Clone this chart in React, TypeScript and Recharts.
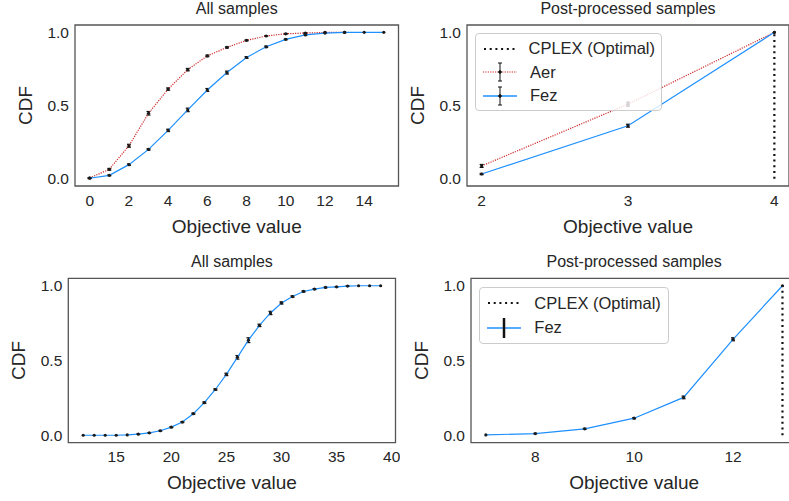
import React from "react";
import {
  LineChart,
  Line,
  XAxis,
  YAxis,
  ErrorBar,
  ReferenceArea,
  ReferenceLine,
} from "recharts";

const FONT = '"Liberation Sans", Arial, Helvetica, sans-serif';
const TEXT = "#262626";
const RED = "#cc2a2a";
const BLUE = "#1e90ff";
const SPINE = "#555555";

// panel 1: all samples, small problem
const allX = [0, 1, 2, 3, 4, 5, 6, 7, 8, 9, 10, 11, 12, 13, 14, 15];
const allAer = [0.005, 0.064, 0.225, 0.447, 0.612, 0.745, 0.839, 0.897, 0.945, 0.975, 0.99, 0.995, 0.999, 1.0];
const allAerErr = [0.002, 0.006, 0.01, 0.012, 0.008, 0.008, 0.005, 0.004, 0.003, 0.002, 0.002, 0.002, 0.001, 0];
const allFez = [0.003, 0.023, 0.096, 0.2, 0.33, 0.47, 0.606, 0.725, 0.828, 0.901, 0.952, 0.982, 0.995, 0.999, 1.0, 1.0];
const allFezErr = [0.002, 0.003, 0.005, 0.005, 0.008, 0.012, 0.01, 0.01, 0.006, 0.005, 0.003, 0.003, 0.002, 0.001, 0, 0];

// panel 2: post-processed, small problem
const postX = [2, 3, 4];
const postAer = [0.087, 0.509, 1.0];
const postAerErr = [0.01, 0.014, 0];
const postFez = [0.032, 0.362, 1.0];
const postFezErr = [0.004, 0.01, 0];

// panel 3: all samples, large problem
const bigX = [12, 13, 14, 15, 16, 17, 18, 19, 20, 21, 22, 23, 24, 25, 26, 27, 28, 29, 30, 31, 32, 33, 34, 35, 36, 37, 38, 39];
const bigFez = [0, 0, 0, 0, 0.002, 0.007, 0.016, 0.03, 0.054, 0.088, 0.144, 0.218, 0.306, 0.407, 0.521, 0.636, 0.735, 0.818, 0.885, 0.928, 0.962, 0.978, 0.989, 0.993, 0.998, 1.0, 1.0, 1.0];
const bigFezErr = [0, 0, 0, 0, 0, 0.001, 0.001, 0.002, 0.003, 0.003, 0.004, 0.005, 0.005, 0.008, 0.012, 0.016, 0.008, 0.011, 0.007, 0.005, 0.004, 0.003, 0.002, 0.001, 0.001, 0, 0, 0];

// panel 4: post-processed, large problem
const bigPostX = [7, 8, 9, 10, 11, 12, 13];
const bigPostFez = [0.002, 0.011, 0.043, 0.114, 0.253, 0.642, 1.0];
const bigPostFezErr = [0, 0.002, 0.003, 0.004, 0.009, 0.01, 0];

const yTicks = [0, 0.5, 1];

type Series = { key: string; errKey: string; color: string; dash?: string };

type PanelProps = {
  left: number;
  top: number;
  width: number;
  height: number;
  plot: [number, number, number, number]; // left, top, right, bottom
  xDomain: [number, number];
  xTicks: number[];
  xTickGap: number;
  title: string;
  data: any[];
  series: Series[];
  optimal?: number;
};

const buildRows = (xs: number[], cols: Record<string, number[]>) =>
  xs.map((x, i) => {
    const row: any = { x };
    Object.keys(cols).forEach((k) => {
      if (cols[k][i] !== undefined) row[k] = cols[k][i];
    });
    return row;
  });

const Panel = ({ left, top, width, height, plot, xDomain, xTicks, xTickGap, title, data, series, optimal }: PanelProps) => {
  const [pl, pt, pr, pb] = plot;
  return (
    <div style={{ position: "absolute", left, top, width, height }}>
      <div
        style={{
          position: "absolute",
          left: pl,
          width: pr - pl,
          top: pt - 24.5,
          textAlign: "center",
          fontSize: 16,
          lineHeight: "16px",
          color: TEXT,
          fontFamily: FONT,
        }}
      >
        {title}
      </div>
      <LineChart
        width={width}
        height={height}
        data={data}
        margin={{ top: pt, right: width - pr, bottom: 0, left: 0 }}
      >
        <XAxis
          type="number"
          dataKey="x"
          domain={xDomain}
          ticks={xTicks}
          allowDataOverflow
          height={height - pb}
          axisLine={false}
          tickLine={false}
          tickSize={0}
          tickMargin={xTickGap}
          tick={{ fill: TEXT, fontSize: 15.5, fontFamily: FONT }}
          label={({ viewBox }: any) => (
            <text
              x={viewBox.x + viewBox.width / 2}
              y={viewBox.y + 40}
              textAnchor="middle"
              dominantBaseline="central"
              fill={TEXT}
              fontSize={19}
              fontFamily={FONT}
            >
              Objective value
            </text>
          )}
        />
        <YAxis
          type="number"
          domain={[-0.05, 1.05]}
          ticks={yTicks}
          allowDataOverflow
          width={pl}
          axisLine={false}
          tickLine={false}
          tickSize={0}
          tickMargin={6}
          tickFormatter={(v: number) => v.toFixed(1)}
          tick={{ fill: TEXT, fontSize: 15.5, fontFamily: FONT }}
          label={({ viewBox }: any) => {
            const cx = viewBox.x + viewBox.width - 49.5;
            const cy = viewBox.y + viewBox.height / 2;
            return (
              <text
                x={cx}
                y={cy}
                transform={`rotate(-90 ${cx} ${cy})`}
                textAnchor="middle"
                dominantBaseline="central"
                fill={TEXT}
                fontSize={19}
                fontFamily={FONT}
              >
                CDF
              </text>
            );
          }}
        />
        <ReferenceArea
          x1={xDomain[0]}
          x2={xDomain[1]}
          y1={-0.05}
          y2={1.05}
          fill="none"
          stroke={SPINE}
          strokeWidth={1.3}
          ifOverflow="visible"
        />
        {optimal !== undefined && (
          <ReferenceLine
            segment={[
              { x: optimal, y: 0 },
              { x: optimal, y: 1 },
            ]}
            stroke="#111"
            strokeWidth={2.2}
            strokeDasharray="2 3.7"
          />
        )}
        {series.map((s) => (
          <Line
            key={s.key}
            type="linear"
            dataKey={s.key}
            stroke={s.color}
            strokeWidth={1.2}
            strokeDasharray={s.dash}
            dot={{ r: 1.6, fill: "#1a1a1a", stroke: "none" }}
            activeDot={false}
            isAnimationActive={false}
          >
            <ErrorBar dataKey={s.errKey} direction="y" width={2} stroke="#111" strokeWidth={1.2} />
          </Line>
        ))}
      </LineChart>
    </div>
  );
};

const Handle = ({ kind }: { kind: "cplex" | "aer" | "fez" | "fezThick" }) => (
  <svg width={34} height={22} style={{ display: "block" }}>
    {kind === "cplex" && <line x1={1} x2={33} y1={11} y2={11} stroke="#111" strokeWidth={2.2} strokeDasharray="2 3.7" />}
    {kind === "aer" && <line x1={0} x2={34} y1={11} y2={11} stroke={RED} strokeWidth={1.2} strokeDasharray="1.2 1.2" />}
    {(kind === "fez" || kind === "fezThick") && <line x1={0} x2={34} y1={11} y2={11} stroke={BLUE} strokeWidth={1.3} />}
    {(kind === "aer" || kind === "fez") && (
      <g stroke="#111" strokeWidth={1}>
        <line x1={17} x2={17} y1={2} y2={20} />
        <line x1={15} x2={19} y1={2} y2={2} />
        <line x1={15} x2={19} y1={20} y2={20} />
        <circle cx={17} cy={11} r={1.3} fill="#111" />
      </g>
    )}
    {kind === "fezThick" && <line x1={17} x2={17} y1={1} y2={21} stroke="#111" strokeWidth={2.5} />}
  </svg>
);

const LegendBox = ({
  left,
  top,
  width,
  rowHeight,
  items,
}: {
  left: number;
  top: number;
  width: number;
  rowHeight: number;
  items: { label: string; kind: "cplex" | "aer" | "fez" | "fezThick" }[];
}) => (
  <div
    style={{
      position: "absolute",
      left,
      top,
      width,
      boxSizing: "border-box",
      padding: "3px 6px 3px 6.5px",
      border: "1px solid #cccccc",
      borderRadius: 4,
      background: "rgba(255,255,255,0.8)",
      fontFamily: FONT,
      fontSize: 16.5,
      color: TEXT,
    }}
  >
    {items.map((it) => (
      <div key={it.label} style={{ display: "flex", alignItems: "center", height: rowHeight }}>
        <Handle kind={it.kind} />
        <span style={{ marginLeft: 13.5, whiteSpace: "nowrap" }}>{it.label}</span>
      </div>
    ))}
  </div>
);

export default function App() {
  const allData = buildRows(allX, { aer: allAer, aerErr: allAerErr, fez: allFez, fezErr: allFezErr });
  const postData = buildRows(postX, { aer: postAer, aerErr: postAerErr, fez: postFez, fezErr: postFezErr });
  const bigData = buildRows(bigX, { fez: bigFez, fezErr: bigFezErr });
  const bigPostData = buildRows(bigPostX, { fez: bigPostFez, fezErr: bigPostFezErr });

  const twoSeries: Series[] = [
    { key: "aer", errKey: "aerErr", color: RED, dash: "1.2 1.2" },
    { key: "fez", errKey: "fezErr", color: BLUE },
  ];
  const fezOnly: Series[] = [{ key: "fez", errKey: "fezErr", color: BLUE }];

  return (
    <div
      style={{
        position: "relative",
        width: 789,
        height: 501,
        overflow: "hidden",
        background: "#fff",
        fontFamily: FONT,
      }}
    >
      <style>{`body{margin:0}`}</style>
      <Panel
        left={0}
        top={0}
        width={400}
        height={250}
        plot={[75, 25, 398.5, 186]}
        xDomain={[-0.75, 15.75]}
        xTicks={[0, 2, 4, 6, 8, 10, 12, 14]}
        xTickGap={9}
        title="All samples"
        data={allData}
        series={twoSeries}
      />
      <Panel
        left={400}
        top={0}
        width={400}
        height={250}
        plot={[67, 25, 389, 186]}
        xDomain={[1.9, 4.1]}
        xTicks={[2, 3, 4]}
        xTickGap={9}
        title="Post-processed samples"
        data={postData}
        series={twoSeries}
        optimal={4}
      />
      <Panel
        left={0}
        top={250}
        width={400}
        height={251}
        plot={[68.3, 28.3, 395.5, 192.7]}
        xDomain={[10.65, 40.35]}
        xTicks={[15, 20, 25, 30, 35, 40]}
        xTickGap={8}
        title="All samples"
        data={bigData}
        series={fezOnly}
      />
      <Panel
        left={400}
        top={250}
        width={410}
        height={251}
        plot={[71, 28.3, 397.3, 192.7]}
        xDomain={[6.7, 13.3]}
        xTicks={[8, 10, 12]}
        xTickGap={8}
        title="Post-processed samples"
        data={bigPostData}
        series={fezOnly}
        optimal={13}
      />
      <LegendBox
        left={475}
        top={33.3}
        width={187}
        rowHeight={23.4}
        items={[
          { label: "CPLEX (Optimal)", kind: "cplex" },
          { label: "Aer", kind: "aer" },
          { label: "Fez", kind: "fez" },
        ]}
      />
      <LegendBox
        left={479.3}
        top={287.3}
        width={190}
        rowHeight={24.3}
        items={[
          { label: "CPLEX (Optimal)", kind: "cplex" },
          { label: "Fez", kind: "fezThick" },
        ]}
      />
    </div>
  );
}
